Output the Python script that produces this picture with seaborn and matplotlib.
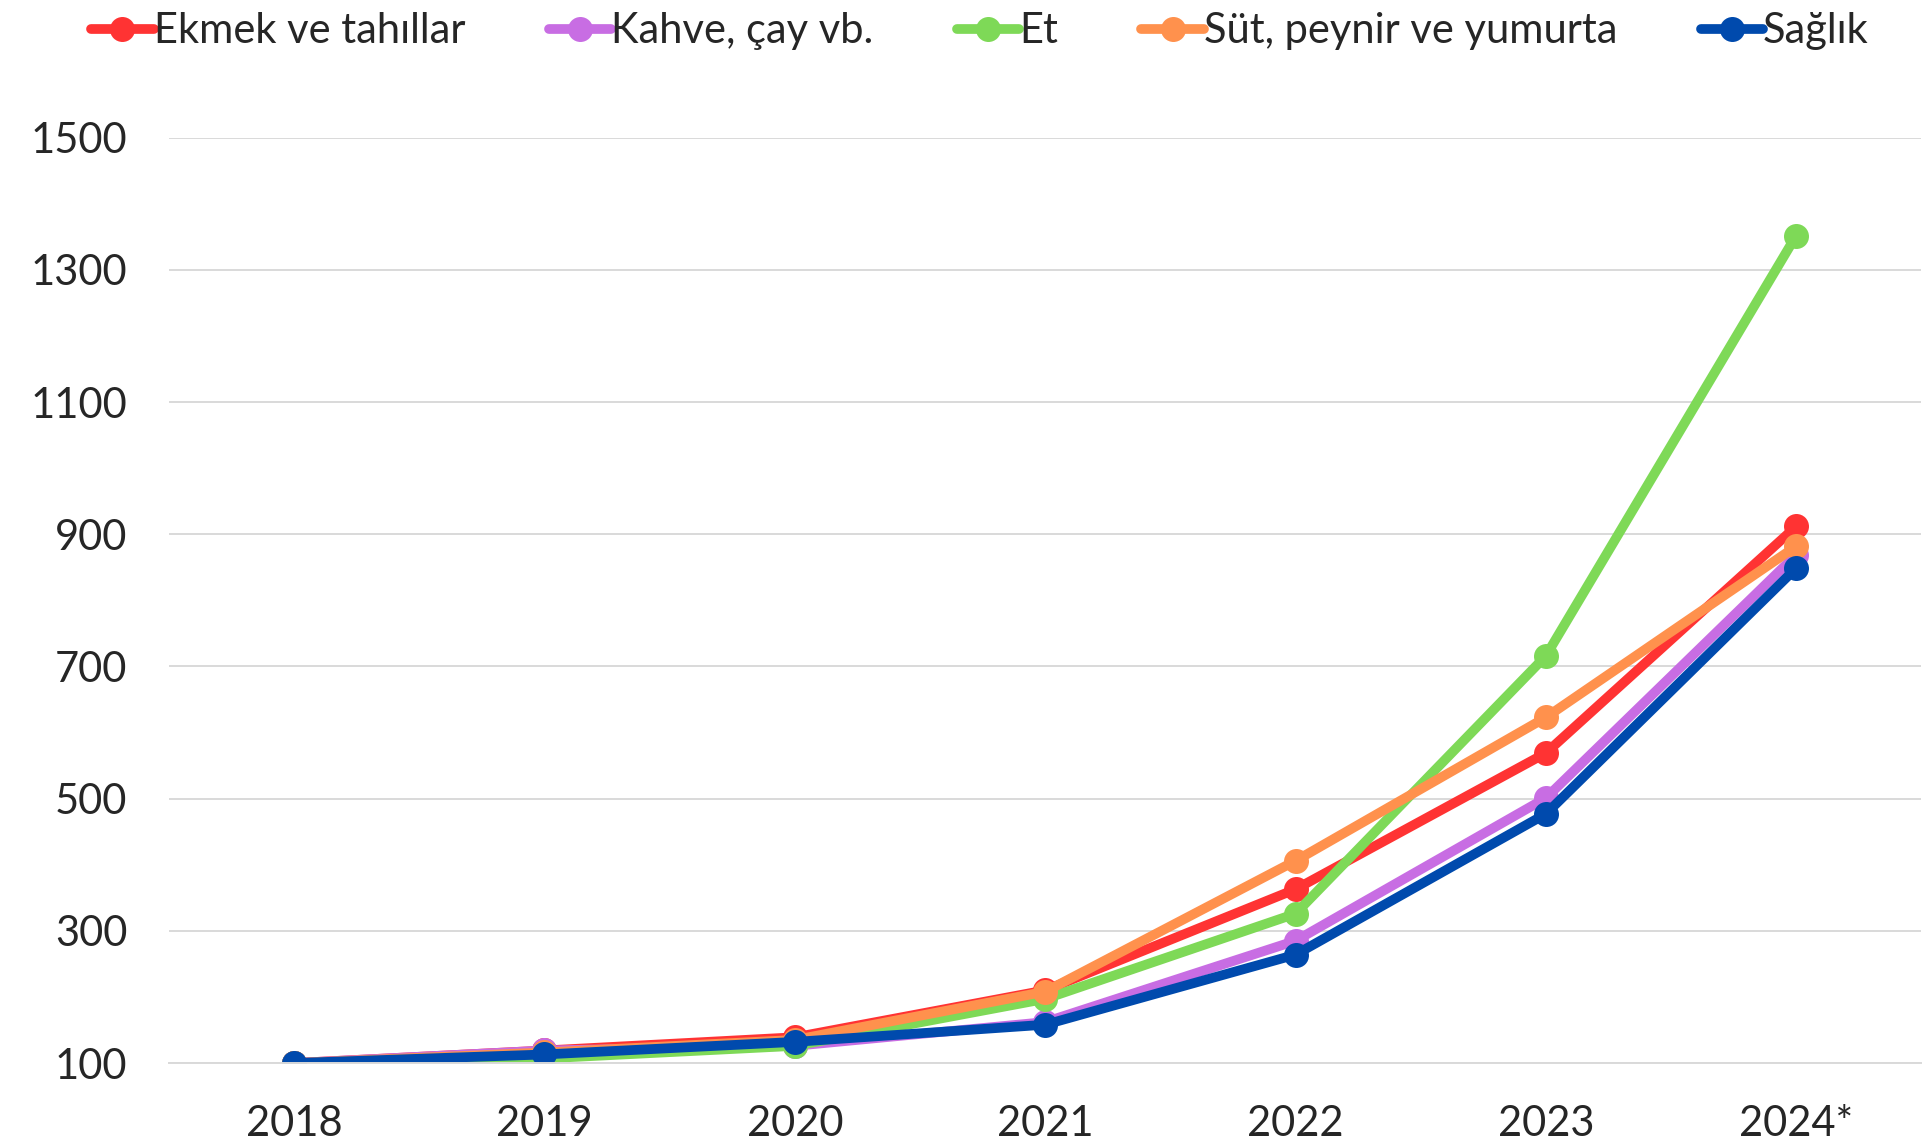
import numpy as np
import pandas as pd
import matplotlib
matplotlib.use("Agg")
import matplotlib.pyplot as plt
import seaborn as sns

# data
years = ["2018", "2019", "2020", "2021", "2022", "2023", "2024*"]
ekmek = [100, 119, 139, 210, 363, 569, 912]
kahve = [100, 119, 126, 162, 285, 501, 869]
et = [100, 107, 126, 197, 326, 716, 1352]
sut = [100, 116, 135, 208, 406, 623, 882]
saglik = [100, 113, 132, 158, 264, 477, 849]

series_names = ["Ekmek ve tahıllar", "Kahve, çay vb.", "Et", "Süt, peynir ve yumurta", "Sağlık"]
series_vals = [ekmek, kahve, et, sut, saglik]
colors = ["#FF3333", "#C86DE3", "#7ED957", "#FF914D", "#004AAD"]

df = pd.DataFrame({
    "x": np.tile(np.arange(len(years)), len(series_names)),
    "value": np.concatenate(series_vals),
    "seri": np.repeat(series_names, len(years)),
})

sns.set_theme(style="white")
plt.rcParams["font.family"] = ["Lato", "DejaVu Sans"]

LW = 7
MS = 18

fig = plt.figure(figsize=(19.33, 11.48), dpi=100)
ax = fig.add_axes([0.0874, 0.074, 0.9066, 0.806])

for name, col in zip(series_names, colors):
    sub = df[df["seri"] == name]
    sns.lineplot(data=sub, x="x", y="value", ax=ax, color=col, linewidth=LW,
                 marker="o", markersize=MS, markeredgewidth=0, label=name,
                 sort=False, legend=False)

ax.set_xlim(-0.5, len(years) - 0.5)
ax.set_ylim(100, 1500)
ax.set_yticks(range(100, 1501, 200))
ax.set_xticks(range(len(years)))
ax.set_xticklabels(years)
ax.set_xticks(np.arange(-0.5, len(years), 1.0), minor=True)
ax.tick_params(axis="x", which="major", length=0, pad=30, labelsize=30)
ax.tick_params(axis="x", which="minor", length=14, width=1.2, color="#d9d9d9", direction="out")
ax.tick_params(axis="y", length=0, pad=30, labelsize=30)
ax.set_xlabel("")
ax.set_ylabel("")
ax.yaxis.grid(True, color="#d9d9d9", linewidth=1.4)
ax.xaxis.grid(False)
for s in ["left", "right", "top"]:
    ax.spines[s].set_visible(False)
ax.spines["bottom"].set_color("#d9d9d9")
ax.spines["bottom"].set_linewidth(1.4)

handles = [plt.Line2D([], [], color=c, linewidth=LW, marker="o", markersize=MS,
                      markeredgewidth=0) for c in colors]
fig.legend(handles, series_names, loc="upper center", bbox_to_anchor=(0.507, 1.022),
           ncol=5, frameon=False, fontsize=30, handlelength=1.5, handletextpad=0.0,
           columnspacing=2.0)

fig.savefig("out.png", dpi=100)
